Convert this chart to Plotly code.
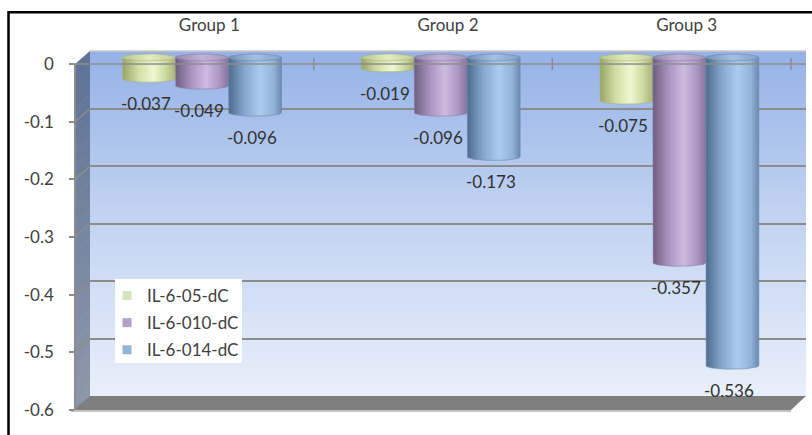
import base64
import struct
import zlib

import numpy as np
import plotly.graph_objects as go

# ---- data -------------------------------------------------------------
groups = ["Group 1", "Group 2", "Group 3"]
series_names = ["IL-6-05-dC", "IL-6-010-dC", "IL-6-014-dC"]
il6_05_dc = [-0.037, -0.019, -0.075]
il6_010_dc = [-0.049, -0.096, -0.357]
il6_014_dc = [-0.096, -0.173, -0.536]
y_tick_values = [0, -0.1, -0.2, -0.3, -0.4, -0.5, -0.6]
y_tick_labels = ["0", "-0.1", "-0.2", "-0.3", "-0.4", "-0.5", "-0.6"]

series_values = [il6_05_dc, il6_010_dc, il6_014_dc]
legend_colors = ["#d7e4bd", "#b3a2c7", "#95b3d7"]
body_scales = [
    [[0, "#98a466"], [0.3, "#d2dea6"], [0.58, "#eef8cf"], [0.82, "#cdd8a0"], [1, "#a6b277"]],
    [[0, "#6d5d82"], [0.3, "#a994c0"], [0.58, "#cebbe3"], [0.82, "#ab98c4"], [1, "#86749c"]],
    [[0, "#4d6b8e"], [0.3, "#86a6ce"], [0.6, "#abcbf0"], [0.85, "#93b3d9"], [1, "#6b89ae"]],
]
cap_scales = [
    [[0, "#b9c48d"], [0.5, "#e3ecbf"], [1, "#c3cd98"]],
    [[0, "#958aa8"], [0.5, "#c4b2d6"], [1, "#a596b8"]],
    [[0, "#7892b3"], [0.5, "#a4c0e4"], [1, "#87a2c6"]],
]
edge_colors = ["#a9b47c", "#8a789f", "#6a87ab"]

# ---- page geometry (pixels of the 812x435 page) -----------------------
W, H = 812, 435


def fx(px):
    return px / W


def fy(py):
    return 1 - py / H


BACK_L, BACK_R, BACK_T, BACK_B = 90, 806, 51, 396   # back wall
FRONT_L, FRONT_R, FRONT_T, FRONT_B = 75, 791, 64, 410  # front edge of the box
CAT_PX = (BACK_R - BACK_L) / 3
BAR_ZERO_PX = 57.5          # value 0 at mid depth
BAR_SCALE = (BACK_B - BACK_T) / 0.6   # px per unit
BAR_CENTER0_PX = 202        # first category centre at mid depth

bar_x_range = [-(BAR_CENTER0_PX - BACK_L) / CAT_PX, (BACK_R - BAR_CENTER0_PX) / CAT_PX]
Y3_TOP_PX, Y3_BOT_PX = 45, 420
y3_top = (BAR_ZERO_PX - Y3_TOP_PX) / BAR_SCALE
y3_range = [y3_top - (Y3_BOT_PX - Y3_TOP_PX) / BAR_SCALE, y3_top]

BAR_W = 0.222
RY = 3.5 / BAR_SCALE

FONT = "Lato"
TEXT = "#404040"


def gradient_png(stops, n=160):
    """Vertical gradient as a tiny PNG data URI; stops = [(t, (r,g,b)), ...]."""
    raw = b""
    for i in range(n):
        t = i / (n - 1)
        for (t0, c0), (t1, c1) in zip(stops[:-1], stops[1:]):
            if t0 <= t <= t1:
                k = (t - t0) / (t1 - t0) if t1 > t0 else 0
                col = bytes(int(round(a + (b - a) * k)) for a, b in zip(c0, c1))
                break
        raw += b"\x00" + col * 2

    def chunk(tag, data):
        return (struct.pack(">I", len(data)) + tag + data
                + struct.pack(">I", zlib.crc32(tag + data) & 0xFFFFFFFF))

    ihdr = struct.pack(">IIBBBBB", 2, n, 8, 2, 0, 0, 0)
    png = (b"\x89PNG\r\n\x1a\n" + chunk(b"IHDR", ihdr)
           + chunk(b"IDAT", zlib.compress(raw)) + chunk(b"IEND", b""))
    return "data:image/png;base64," + base64.b64encode(png).decode()


fig = go.Figure()

# helper traces so every axis pair is laid out
fig.add_trace(go.Scatter(x=[None], y=[None], xaxis="x", yaxis="y",
                         showlegend=False, hoverinfo="skip"))
fig.add_trace(go.Scatter(x=[None], y=[None], xaxis="x2", yaxis="y2",
                         showlegend=False, hoverinfo="skip"))

# cylinders
theta_half = np.linspace(0, np.pi, 40)
theta_full = np.linspace(0, 2 * np.pi, 80)
offsets = [-1, 0, 1]
for s, vals in enumerate(series_values):
    for g, v in enumerate(vals):
        c = g + offsets[s] * BAR_W
        hw = BAR_W / 2
        bx = [c - hw, c - hw] + list(c - hw * np.cos(theta_half)) + [c + hw, c - hw]
        by = [0, v] + list(v - RY * np.sin(theta_half)) + [0, 0]
        fig.add_trace(go.Scatter(
            x=bx, y=by, xaxis="x", yaxis="y3", mode="lines", fill="toself",
            line=dict(width=0.6, color=edge_colors[s]),
            fillgradient=dict(type="horizontal", colorscale=body_scales[s]),
            showlegend=False, hoverinfo="skip"))
        fig.add_trace(go.Scatter(
            x=list(c + hw * np.cos(theta_full)), y=list(RY * np.sin(theta_full)),
            xaxis="x", yaxis="y3", mode="lines", fill="toself",
            line=dict(width=0.6, color=edge_colors[s]),
            fillgradient=dict(type="horizontal", colorscale=cap_scales[s]),
            showlegend=False, hoverinfo="skip"))
        fig.add_annotation(x=c, y=v, xref="x", yref="y3", text=f"{v:.3f}",
                           showarrow=False, yshift=-25, xshift=-3,
                           font=dict(family=FONT, size=17, color="#303030"))

# legend entries
for s, name in enumerate(series_names):
    fig.add_trace(go.Scatter(
        x=[None], y=[None], xaxis="x", yaxis="y3", mode="markers", name=name,
        legendgroup=name,
        marker=dict(symbol="square", size=9, color=legend_colors[s]),
        hoverinfo="skip"))

shapes = []
# side wall, shaded in bands
top_rgb, bot_rgb = (94, 115, 151), (143, 152, 171)
N = 24
for i in range(N):
    t0, t1 = i / N, (i + 1) / N
    col = tuple(int(a + (b - a) * (t0 + t1) / 2) for a, b in zip(top_rgb, bot_rgb))
    ly0 = FRONT_T + t0 * (FRONT_B - FRONT_T)
    ly1 = FRONT_T + t1 * (FRONT_B - FRONT_T)
    ry0 = BACK_T + t0 * (BACK_B - BACK_T)
    ry1 = BACK_T + t1 * (BACK_B - BACK_T)
    path = (f"M {fx(FRONT_L)},{fy(ly0)} L {fx(BACK_L)},{fy(ry0)} "
            f"L {fx(BACK_L)},{fy(ry1 + 0.6)} L {fx(FRONT_L)},{fy(ly1 + 0.6)} Z")
    shapes.append(dict(type="path", path=path, xref="paper", yref="paper",
                       fillcolor="rgb(%d,%d,%d)" % col, line=dict(width=0), layer="below"))
# grid lines running across the side wall
for v in y_tick_values[1:-1]:
    shapes.append(dict(type="line", xref="paper", yref="paper",
                       x0=fx(FRONT_L), y0=fy(FRONT_T - v / 0.6 * (FRONT_B - FRONT_T)),
                       x1=fx(BACK_L), y1=fy(BACK_T - v / 0.6 * (BACK_B - BACK_T)),
                       line=dict(color="#8c8c8c", width=1.5), layer="below"))
# floor
shapes.append(dict(type="path", xref="paper", yref="paper",
                   path=(f"M {fx(FRONT_L - 2)},{fy(FRONT_B)} L {fx(BACK_L)},{fy(BACK_B)} "
                         f"L {fx(BACK_R)},{fy(BACK_B)} L {fx(FRONT_R)},{fy(FRONT_B)} Z"),
                   fillcolor="#7f7f7f", line=dict(width=0), layer="below"))
shapes.append(dict(type="line", xref="paper", yref="paper",
                   x0=fx(FRONT_L - 4), x1=fx(FRONT_R), y0=fy(FRONT_B + 1), y1=fy(FRONT_B + 1),
                   line=dict(color="#c4c4c4", width=2), layer="below"))
# top edge of the back wall
shapes.append(dict(type="line", xref="paper", yref="paper",
                   x0=fx(BACK_L), x1=fx(BACK_R), y0=fy(BACK_T), y1=fy(BACK_T),
                   line=dict(color="#c9c9c9", width=1.5), layer="below"))
# front category axis at zero with its tick marks
shapes.append(dict(type="line", xref="paper", yref="paper",
                   x0=fx(FRONT_L - 5), x1=fx(BACK_R), y0=fy(FRONT_T), y1=fy(FRONT_T),
                   line=dict(color="#8c8c8c", width=1.5), layer="above"))
for k in range(1, 4):
    xp = FRONT_L + k * CAT_PX
    shapes.append(dict(type="line", xref="paper", yref="paper",
                       x0=fx(xp), x1=fx(xp), y0=fy(FRONT_T - 6), y1=fy(FRONT_T + 6),
                       line=dict(color="#8c8c8c", width=1.5), layer="above"))
# legend box
shapes.append(dict(type="rect", xref="paper", yref="paper",
                   x0=fx(115), x1=fx(242), y0=fy(279), y1=fy(363),
                   fillcolor="white", line=dict(width=0), layer="above"))
# outer frame
shapes.append(dict(type="rect", xref="paper", yref="paper",
                   x0=fx(8.5), x1=fx(830), y0=fy(12.3), y1=fy(450),
                   line=dict(color="black", width=2.5), fillcolor="rgba(0,0,0,0)",
                   layer="above"))

wall_src = gradient_png([(0.0, (150, 178, 231)), (0.45, (192, 210, 241)),
                         (1.0, (233, 239, 250))])

fig.update_layout(
    width=W, height=H,
    margin=dict(l=0, r=0, t=0, b=0, pad=0, autoexpand=False),
    paper_bgcolor="white",
    plot_bgcolor="rgba(0,0,0,0)",
    font=dict(family=FONT, size=17, color=TEXT),
    shapes=shapes,
    images=[dict(source=wall_src, xref="paper", yref="paper",
                 x=fx(BACK_L), y=fy(BACK_T), sizex=fx(BACK_R) - fx(BACK_L),
                 sizey=fy(BACK_T) - fy(BACK_B), sizing="stretch",
                 xanchor="left", yanchor="top", layer="below")],
    xaxis=dict(domain=[fx(BACK_L), fx(BACK_R)], range=bar_x_range, anchor="y",
               showgrid=False, zeroline=False, showticklabels=False, ticks="",
               automargin=False),
    yaxis=dict(domain=[fy(BACK_B), fy(BACK_T)], range=[-0.6, 0], anchor="x",
               tickvals=y_tick_values[1:-1], showticklabels=False, ticks="",
               showgrid=True, gridcolor="#8c8c8c", gridwidth=1.5, zeroline=False,
               automargin=False),
    yaxis3=dict(domain=[fy(Y3_BOT_PX), fy(Y3_TOP_PX)], range=y3_range, anchor="x",
                visible=False, automargin=False),
    xaxis2=dict(domain=[fx(BACK_L), fx(BACK_R)], range=[-0.5, 2.5], anchor="free",
                position=fy(34), side="top", tickvals=[0, 1, 2], ticktext=groups,
                showgrid=False, zeroline=False, showline=False, ticks="",
                tickfont=dict(family=FONT, size=17, color=TEXT), automargin=False),
    yaxis2=dict(domain=[fy(FRONT_B), fy(FRONT_T)], range=[-0.6, 0], anchor="free",
                position=fx(FRONT_L), side="left", tickvals=y_tick_values,
                ticktext=y_tick_labels, ticks="outside", ticklen=5,
                tickcolor="#8c8c8c", tickwidth=1.5, ticklabelstandoff=12,
                showline=True, linecolor="#8c8c8c", linewidth=1.5,
                showgrid=False, zeroline=False,
                tickfont=dict(family=FONT, size=17, color=TEXT), automargin=False),
    legend=dict(x=fx(107), y=fy(278), xanchor="left", yanchor="top",
                bgcolor="rgba(0,0,0,0)", font=dict(family=FONT, size=17, color=TEXT),
                tracegroupgap=2, itemclick=False),
    showlegend=True,
)

fig.write_html("out.html")
